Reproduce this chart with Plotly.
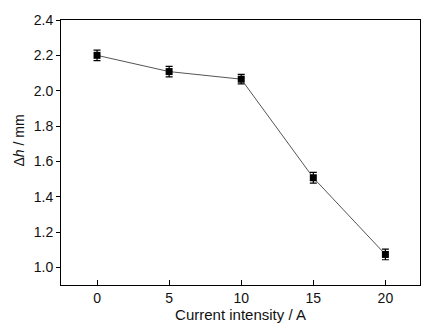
import plotly.graph_objects as go

current = [0, 5, 10, 15, 20]
delta_h = [2.20, 2.108, 2.065, 1.507, 1.073]
errors = [0.03, 0.03, 0.027, 0.03, 0.03]
x_ticks = [0, 5, 10, 15, 20]
y_ticks = [1.0, 1.2, 1.4, 1.6, 1.8, 2.0, 2.2, 2.4]

fig = go.Figure()
fig.add_trace(go.Scatter(
    x=current, y=delta_h,
    mode="lines+markers",
    line=dict(color="#555555", width=1),
    marker=dict(symbol="square", size=7, color="black"),
    error_y=dict(type="data", array=errors, visible=True, color="black", thickness=1.2, width=3.5),
    showlegend=False,
))

fam = "Liberation Sans, Arial, sans-serif"
tick_font = dict(family=fam, size=14, color="#111111")
title_font = dict(family=fam, size=15, color="#111111")

fig.update_layout(
    width=433, height=334,
    margin=dict(l=61, r=12, t=18, b=49),
    paper_bgcolor="white", plot_bgcolor="white",
    font=tick_font,
)
fig.update_xaxes(
    range=[-2.5, 22.4],
    tickvals=x_ticks, ticktext=[str(v) for v in x_ticks],
    tickfont=tick_font,
    ticks="inside", ticklen=5, tickwidth=1, tickcolor="black",
    showline=True, linecolor="black", linewidth=1, mirror=True,
    showgrid=False, zeroline=False,
    title=dict(text="Current intensity / A", font=title_font, standoff=3),
)
fig.update_yaxes(
    range=[0.9, 2.4],
    tickvals=y_ticks, ticktext=[f"{v:.1f}" for v in y_ticks],
    tickfont=tick_font,
    ticks="outside", ticklen=4, tickwidth=1, tickcolor="black",
    showline=True, linecolor="black", linewidth=1, mirror=True,
    showgrid=False, zeroline=False,
)
fig.add_annotation(
    text="Δ<i>h</i> / mm", textangle=-90,
    xref="paper", yref="paper", x=-0.117, y=0.545,
    xanchor="center", yanchor="middle", showarrow=False,
    font=dict(family=fam, size=14, color="#111111"),
)

fig.write_html("out.html")
